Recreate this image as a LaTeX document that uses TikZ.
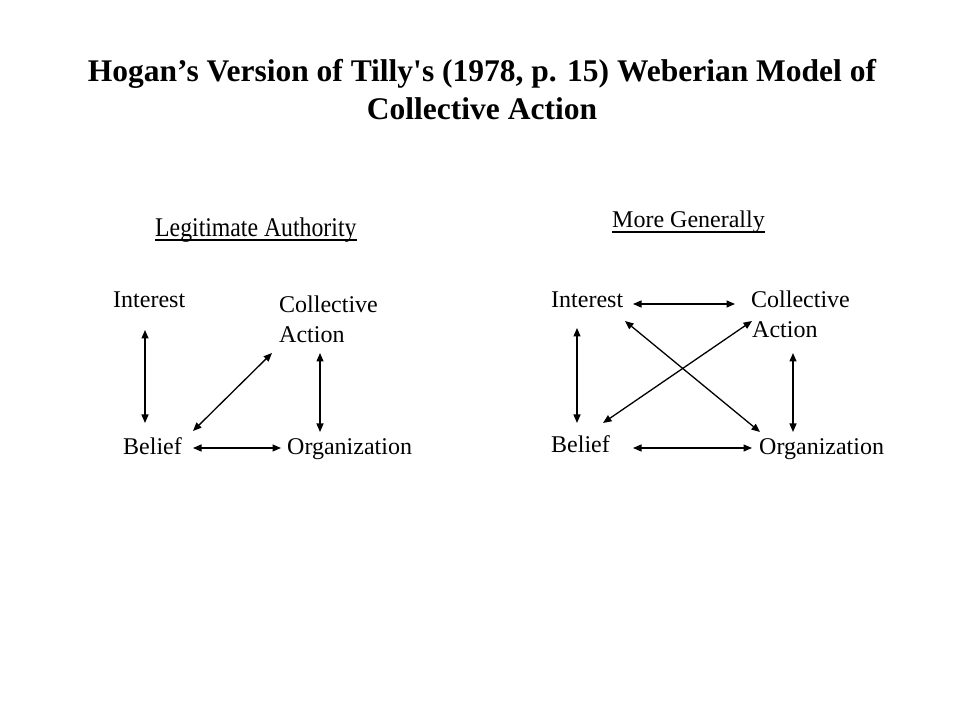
\documentclass[tikz,border=0pt]{standalone}
\usepackage{fontspec}
\setmainfont{Liberation Serif}
\usetikzlibrary{arrows.meta}
\begin{document}
\begin{tikzpicture}[x=1pt,y=1pt,
  lbl/.style={inner sep=0pt,anchor=base west,font=\fontsize{24}{30}\selectfont},
  lbltwo/.style={inner sep=0pt,anchor=south west,align=left,font=\fontsize{24}{30}\selectfont},
  arr/.style={line width=1.3pt,{Triangle[length=8.5pt,width=7pt]}-{Triangle[length=8.5pt,width=7pt]}},
  uline/.style={line width=1.2pt}]
\useasboundingbox (0,0) rectangle (960,720);
% title
\node[inner sep=0pt,anchor=south,align=center,font=\fontsize{31.5}{38}\selectfont\bfseries] (title) at (482,600)
  {Hogan’s Version of Tilly\textquotesingle s (1978, p. 15) Weberian Model of\\Collective Action};
% left diagram
\node[inner sep=0pt,anchor=base west,font=\fontsize{27}{30}\selectfont] (LA) at (155,483)
  {\scalebox{0.88}[1]{Legitimate Authority}};
\draw[uline] ([yshift=-3pt]LA.base west) -- ([yshift=-3pt]LA.base east);
\node[lbl] (Lint) at (113,412) {Interest};
\node[lbltwo] (Lca) at (279,377) {Collective\\Action};
\node[lbl] (Lbel) at (123,265) {Belief};
\node[lbl] (Lorg) at (287,265) {Organization};
\draw[arr] ([shift={(32,-22)}]Lint.base west) -- ([shift={(22,32)}]Lbel.base west);
\draw[arr] ([shift={(70,24)}]Lbel.base west) -- ([shift={(-7,-10)}]Lca.south west);
\draw[arr] ([shift={(41,-10)}]Lca.south west) -- ([shift={(33,23)}]Lorg.base west);
\draw[arr] ([shift={(70,7)}]Lbel.base west) -- ([shift={(-6,7)}]Lorg.base west);
% right diagram
\node[inner sep=0pt,anchor=base west,font=\fontsize{24}{30}\selectfont] (MG) at (612,492.5)
  {More Generally};
\draw[uline] ([yshift=-4.5pt]MG.base west) -- ([yshift=-4.5pt]MG.base east);
\node[lbl] (Rint) at (551,412) {Interest};
\node[lbltwo] (Rca) at (751,382) {Collective\\\hspace*{1pt}Action};
\node[lbl] (Rbel) at (551,267) {Belief};
\node[lbl] (Rorg) at (759,265) {Organization};
\draw[arr] ([shift={(82,4)}]Rint.base west) -- ([shift={(-16,34)}]Rca.south west);
\draw[arr] ([shift={(26,-20)}]Rint.base west) -- ([shift={(26,30)}]Rbel.base west);
\draw[arr] ([shift={(74,-13)}]Rint.base west) -- ([shift={(1,23)}]Rorg.base west);
\draw[arr] ([shift={(52,30)}]Rbel.base west) -- ([shift={(1,17)}]Rca.south west);
\draw[arr] ([shift={(42,-15)}]Rca.south west) -- ([shift={(34,23)}]Rorg.base west);
\draw[arr] ([shift={(82,5)}]Rbel.base west) -- ([shift={(-7,7)}]Rorg.base west);
\end{tikzpicture}
\end{document}
